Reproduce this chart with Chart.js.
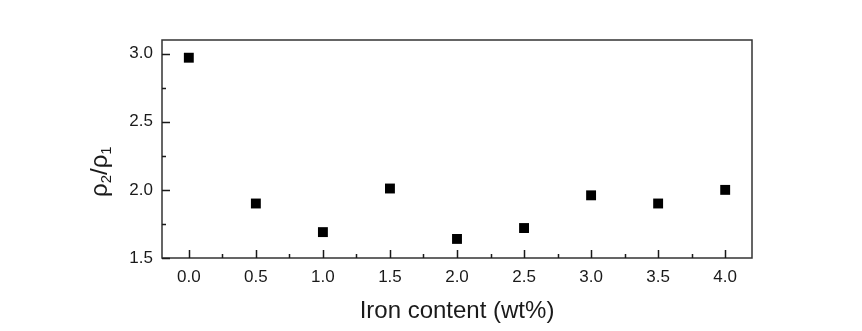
<!DOCTYPE html>
<html>
<head>
<meta charset="utf-8">
<script src="https://cdn.jsdelivr.net/npm/chart.js@4/dist/chart.umd.min.js"></script>
<style>
  html, body { margin: 0; padding: 0; background: #ffffff; }
  #wrap { width: 862px; height: 331px; }
</style>
</head>
<body>
<div id="wrap"><canvas id="c" width="862" height="331"></canvas></div>
<script>
// Iron content (wt%) and the measured resistivity ratio rho2/rho1
const ironContent = [0.0, 0.5, 1.0, 1.5, 2.0, 2.5, 3.0, 3.5, 4.0];
const resistivityRatio = [2.97, 1.90, 1.69, 2.01, 1.64, 1.72, 1.96, 1.90, 2.00];

// Axis ranges and tick steps
const xRange = [-0.2, 4.2];
const yRange = [1.5, 3.1];
const xMajorTicks = [0.0, 0.5, 1.0, 1.5, 2.0, 2.5, 3.0, 3.5, 4.0];
const xMinorTicks = [0.25, 0.75, 1.25, 1.75, 2.25, 2.75, 3.25, 3.75];
const yMajorTicks = [1.5, 2.0, 2.5, 3.0];
const yMinorTicks = [1.75, 2.25, 2.75];

const FONT = "'Liberation Sans', Arial, sans-serif";
const INK = '#1a1a1a';
const FRAME = '#333333';

// Box frame, inward tick marks and the rotated rho2/rho1 title
const framePlugin = {
  id: 'frameTicks',
  afterDraw(chart) {
    const { ctx, chartArea: a, scales } = chart;
    const xs = scales.x, ys = scales.y;
    ctx.save();
    ctx.strokeStyle = FRAME;
    ctx.lineWidth = 1.5;
    ctx.strokeRect(a.left, a.top, a.right - a.left, a.bottom - a.top);

    ctx.lineWidth = 1.5;
    ctx.strokeStyle = INK;
    ctx.beginPath();
    xMajorTicks.forEach(v => {
      const px = Math.round(xs.getPixelForValue(v)) + 0.5;
      ctx.moveTo(px, a.bottom); ctx.lineTo(px, a.bottom - 8);
    });
    xMinorTicks.forEach(v => {
      const px = Math.round(xs.getPixelForValue(v)) + 0.5;
      ctx.moveTo(px, a.bottom); ctx.lineTo(px, a.bottom - 4);
    });
    yMajorTicks.forEach(v => {
      const py = Math.round(ys.getPixelForValue(v)) + 0.5;
      ctx.moveTo(a.left, py); ctx.lineTo(a.left + 8, py);
    });
    yMinorTicks.forEach(v => {
      const py = Math.round(ys.getPixelForValue(v)) + 0.5;
      ctx.moveTo(a.left, py); ctx.lineTo(a.left + 4, py);
    });
    ctx.stroke();

    // y title: ρ₂/ρ₁ with real subscripts, reading bottom to top
    ctx.translate(107, 197);
    ctx.rotate(-Math.PI / 2);
    ctx.fillStyle = INK;
    ctx.textBaseline = 'alphabetic';
    ctx.textAlign = 'left';
    const big = '24px ' + FONT, small = '15px ' + FONT;
    let x = 0;
    const part = (t, f, dy) => {
      ctx.font = f;
      ctx.fillText(t, x, dy);
      x += ctx.measureText(t).width;
    };
    part('ρ', big, 0);
    part('2', small, 4);
    part('/', big, 0);
    part('ρ', big, 0);
    part('1', small, 4);
    ctx.restore();
  }
};

new Chart(document.getElementById('c'), {
  type: 'scatter',
  data: {
    datasets: [{
      data: ironContent.map((v, i) => ({ x: v, y: resistivityRatio[i] })),
      pointStyle: 'rect',
      pointRadius: 7,
      pointHoverRadius: 7,
      backgroundColor: '#000000',
      borderColor: '#000000',
      borderWidth: 0
    }]
  },
  options: {
    responsive: false,
    animation: false,
    events: [],
    layout: { padding: { top: 40, right: 110, left: 0, bottom: 0 } },
    plugins: { legend: { display: false }, tooltip: { enabled: false } },
    scales: {
      x: {
        type: 'linear',
        min: xRange[0], max: xRange[1],
        afterBuildTicks(s) { s.ticks = xMajorTicks.map(v => ({ value: v })); },
        afterFit(s) { s.height = 73; },
        grid: { display: false, drawTicks: false },
        border: { display: false },
        ticks: {
          color: INK,
          font: { family: FONT, size: 17 },
          padding: 9,
          maxRotation: 0,
          callback: v => Number(v).toFixed(1)
        },
        title: {
          display: true,
          text: 'Iron content (wt%)',
          color: INK,
          font: { family: FONT, size: 24 },
          padding: { top: 0, bottom: 5 }
        }
      },
      y: {
        type: 'linear',
        min: yRange[0], max: yRange[1],
        afterBuildTicks(s) { s.ticks = yMajorTicks.map(v => ({ value: v })); },
        afterFit(s) { s.width = 162; },
        grid: { display: false, drawTicks: false },
        border: { display: false },
        ticks: {
          color: INK,
          font: { family: FONT, size: 17 },
          padding: 9,
          callback: v => Number(v).toFixed(1)
        }
      }
    }
  },
  plugins: [framePlugin]
});
</script>
</body>
</html>
